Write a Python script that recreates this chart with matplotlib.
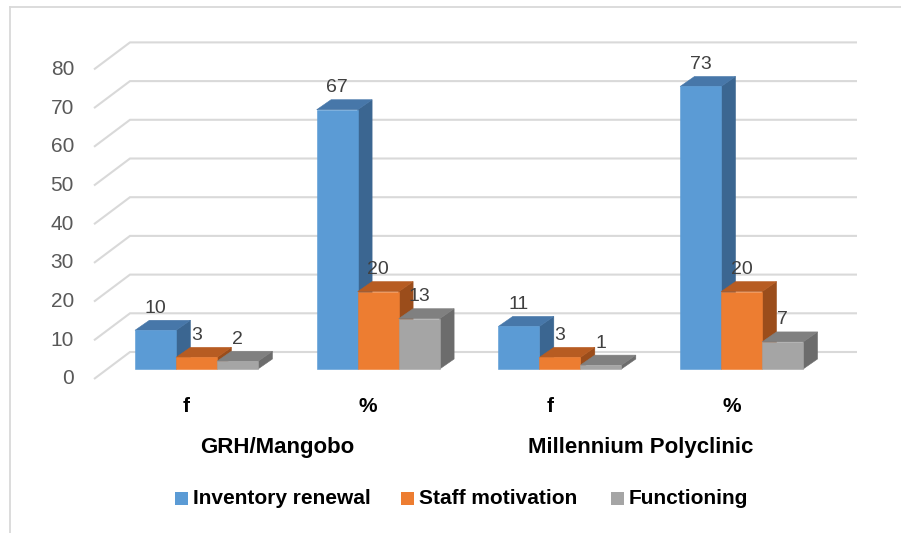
import matplotlib
matplotlib.use("Agg")
import matplotlib.pyplot as plt
from matplotlib.patches import Polygon, Rectangle
from matplotlib.lines import Line2D
from matplotlib import font_manager

plt.rcParams["font.family"] = ["Liberation Sans", "DejaVu Sans"]

# data
groups = ["GRH/Mangobo", "Millennium Polyclinic"]
categories = ["f", "%", "f", "%"]
series = ["Inventory renewal", "Staff motivation", "Functioning"]
inventory = [10, 67, 11, 73]
staff = [3, 20, 3, 20]
functioning = [2, 13, 1, 7]
yticks = [0, 10, 20, 30, 40, 50, 60, 70, 80]

front_col = ["#5B9BD5", "#ED7D31", "#A5A5A5"]
top_col = ["#4777A9", "#B75C22", "#808080"]
side_col = ["#3B6691", "#9B4D1B", "#6C6C6C"]

names = {f.name for f in font_manager.fontManager.ttflist}
if "Liberation Sans Narrow" in names:
    leg_font = dict(family="Liberation Sans Narrow", fontsize=17.5)
else:
    leg_font = dict(family="Liberation Sans", fontsize=15)

W, H = 901, 533
fig = plt.figure(figsize=(W / 100, H / 100), dpi=100)
ax = fig.add_axes([0, 0, 1, 1])

# pixel scale of the fake 3d scene
sx = 181.7   # px per category
sy = 3.87    # px per value unit
x0, y0 = 196.5, 164
ax.set_xlim(-x0 / sx, (W - x0) / sx)
ax.set_ylim(-y0 / sy, (H - y0) / sy)
ax.axis("off")

bw = 41 / sx
ddx, ddy = 14.4 / sx, 10 / sy

# back wall gridlines + tick labels
for v in yticks:
    xf, yf = (94 - x0) / sx, v - 10 / sy
    xb, yb = (130 - x0) / sx, v + 17 / sy
    xe = (857 - x0) / sx
    ax.plot([xf, xb, xe], [yf, yb, yb], color="#D9D9D9", lw=1.5, zorder=1,
            solid_joinstyle="miter", solid_capstyle="butt")
    ax.text((74 - x0) / sx, yf, str(v), ha="right", va="center",
            fontsize=15, color="#595959")

vals = [inventory, staff, functioning]
for i in range(len(categories)):
    for s in range(len(series)):
        v = vals[s][i]
        xl = i + (s - 1.5) * bw
        xr = xl + bw
        z = 3 + s
        ax.add_patch(Polygon([(xr, 0), (xr + ddx, ddy), (xr + ddx, v + ddy), (xr, v)],
                             fc=side_col[s], ec=side_col[s], lw=0.4, zorder=z))
        ax.add_patch(Polygon([(xl, v), (xr, v), (xr + ddx, v + ddy), (xl + ddx, v + ddy)],
                             fc=top_col[s], ec=top_col[s], lw=0.4, zorder=z))
        ax.add_patch(Rectangle((xl, 0), bw, v, fc=front_col[s], ec=front_col[s],
                               lw=0.4, zorder=z + 0.5))
        ax.text(xl + bw / 2, v + ddy + 12 / sy, str(v), ha="center", va="center",
                fontsize=14, color="#404040", zorder=10)

# category labels
for i, c in enumerate(categories):
    ax.text(i - 10 / sx, -37 / sy, c, ha="center", va="center",
            fontsize=15, fontweight="bold", color="black")
for g, name in enumerate(groups):
    ax.text(2 * g + 0.5 - 10 / sx, -78 / sy, name, ha="center", va="center",
            fontsize=16, fontweight="bold", color="black")

# legend
leg_x = [175, 401, 611]
for s, name in enumerate(series):
    ax.add_patch(Rectangle(((leg_x[s] - x0) / sx, -136 / sy), 12.5 / sx, 13 / sy,
                           fc=front_col[s], ec="none"))
    ax.text((leg_x[s] + 18 - x0) / sx, -129.5 / sy, name, ha="left", va="center",
            fontweight="bold", color="black", **leg_font)

# chart area border
fig.add_artist(Line2D([9.5 / W, 9.5 / W], [0, 1 - 6.5 / H], transform=fig.transFigure,
                      color="#D9D9D9", lw=1.3))
fig.add_artist(Line2D([9.5 / W, 1], [1 - 6.5 / H, 1 - 6.5 / H], transform=fig.transFigure,
                      color="#D9D9D9", lw=1.3))

fig.savefig("out.png", dpi=100)
